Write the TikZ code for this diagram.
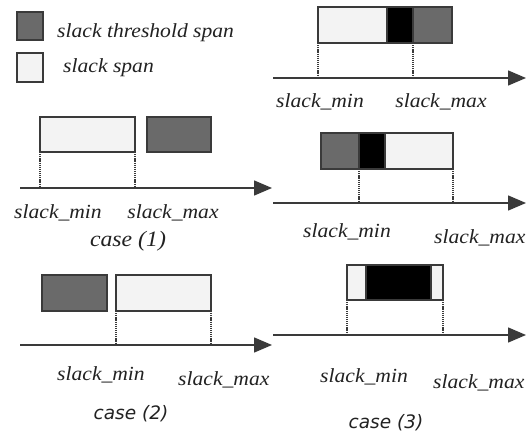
\documentclass[tikz,border=0pt]{standalone}
\usepackage{fontspec}
\setmainfont{Liberation Serif}
\newfontfamily\casefont{DejaVu Sans}
\usetikzlibrary{arrows.meta}
\definecolor{lightfill}{HTML}{F3F3F3}
\definecolor{darkfill}{HTML}{6A6A6A}
\definecolor{edge}{HTML}{3A3A3A}
\definecolor{ink}{HTML}{222222}
\tikzset{
  span/.style={draw=edge, line width=1.2pt},
  lightbox/.style={span, fill=lightfill},
  darkbox/.style={span, fill=darkfill},
  blackbox/.style={span, fill=black},
  guide/.style={draw=edge, line width=1.2pt, dash pattern=on 1.2pt off 0.9pt},
  axis/.style={draw=edge, line width=1.4pt, -{Triangle[length=18pt,width=15pt]}},
  lbl/.style={inner sep=0pt, text=ink, font=\fontsize{20}{22}\selectfont\itshape, xscale=1.08},
  caselbl/.style={inner sep=0pt, text=ink, font=\casefont\fontsize{18.5}{21}\selectfont\itshape},
  serifcase/.style={inner sep=0pt, text=ink, font=\fontsize{22}{24}\selectfont\itshape, xscale=1.08}
}
\begin{document}
\begin{tikzpicture}[x=1pt,y=-1pt]
\useasboundingbox[fill=white] (0,0) rectangle (526,439);
% legend
\draw[darkbox] (17,12) rectangle (43,40);
\draw[lightbox] (17,53) rectangle (43,82);
\node[lbl, anchor=base west] (legthr) at (57,37) {slack threshold span};
\node[lbl, anchor=base west] (legspan) at (63,72) {slack span};

% ---- top right
\coordinate (a0s) at (273,78); \coordinate (a0e) at (526,78);
\draw[axis] (a0s) -- (a0e);
\draw[lightbox] (318,7) rectangle (387,43);
\draw[blackbox] (387,7) rectangle (413,43);
\draw[darkbox] (413,7) rectangle (452,43);
\draw[span] (318,7) rectangle (452,43);
\coordinate (t0a) at (318,43); \coordinate (t0b) at (413,43);
\draw[guide] (t0a) -- (t0a |- a0s);
\draw[guide] (t0b) -- (t0b |- a0s);
\node[lbl, anchor=base] (m0) at (320,107) {slack\_min};
\node[lbl, anchor=base] (x0) at (441,107) {slack\_max};

% ---- case 1
\coordinate (a1s) at (20,188); \coordinate (a1e) at (272,188);
\draw[axis] (a1s) -- (a1e);
\draw[lightbox] (40,117) rectangle (135,152);
\draw[darkbox] (147,117) rectangle (211,152);
\coordinate (t1a) at (40,152); \coordinate (t1b) at (135,152);
\draw[guide] (t1a) -- (t1a |- a1s);
\draw[guide] (t1b) -- (t1b |- a1s);
\node[lbl, anchor=base] (m1) at (58,218) {slack\_min};
\node[lbl, anchor=base] (x1) at (173,218) {slack\_max};
\node[serifcase, anchor=base] (c1) at (128,246) {case (1)};

% ---- right middle
\coordinate (a2s) at (273,203); \coordinate (a2e) at (526,203);
\draw[axis] (a2s) -- (a2e);
\draw[darkbox] (321,133) rectangle (359,169);
\draw[blackbox] (359,133) rectangle (385,169);
\draw[lightbox] (385,133) rectangle (453,169);
\draw[span] (321,133) rectangle (453,169);
\coordinate (t2a) at (359,169); \coordinate (t2b) at (453,169);
\draw[guide] (t2a) -- (t2a |- a2s);
\draw[guide] (t2b) -- (t2b |- a2s);
\node[lbl, anchor=base] (m2) at (347,237) {slack\_min};
\node[lbl, anchor=base west] (x2) at (434,243) {slack\_max};

% ---- case 2
\coordinate (a3s) at (20,345); \coordinate (a3e) at (272,345);
\draw[axis] (a3s) -- (a3e);
\draw[darkbox] (42,275) rectangle (107,311);
\draw[lightbox] (116,275) rectangle (211,311);
\coordinate (t3a) at (116,311); \coordinate (t3b) at (211,311);
\draw[guide] (t3a) -- (t3a |- a3s);
\draw[guide] (t3b) -- (t3b |- a3s);
\node[lbl, anchor=base] (m3) at (101,380) {slack\_min};
\node[lbl, anchor=base west] (x3) at (178,385) {slack\_max};
\node[caselbl, anchor=base] (c2) at (131,419) {case (2)};

% ---- case 3
\coordinate (a4s) at (273,335); \coordinate (a4e) at (526,335);
\draw[axis] (a4s) -- (a4e);
\draw[lightbox] (347,265) rectangle (366,300);
\draw[blackbox] (366,265) rectangle (431,300);
\draw[lightbox] (431,265) rectangle (443,300);
\draw[span] (347,265) rectangle (443,300);
\coordinate (t4a) at (347,300); \coordinate (t4b) at (443,300);
\draw[guide] (t4a) -- (t4a |- a4s);
\draw[guide] (t4b) -- (t4b |- a4s);
\node[lbl, anchor=base] (m4) at (364,382) {slack\_min};
\node[lbl, anchor=base west] (x4) at (433,388) {slack\_max};
\node[caselbl, anchor=base] (c3) at (386,428) {case (3)};
\end{tikzpicture}
\end{document}
